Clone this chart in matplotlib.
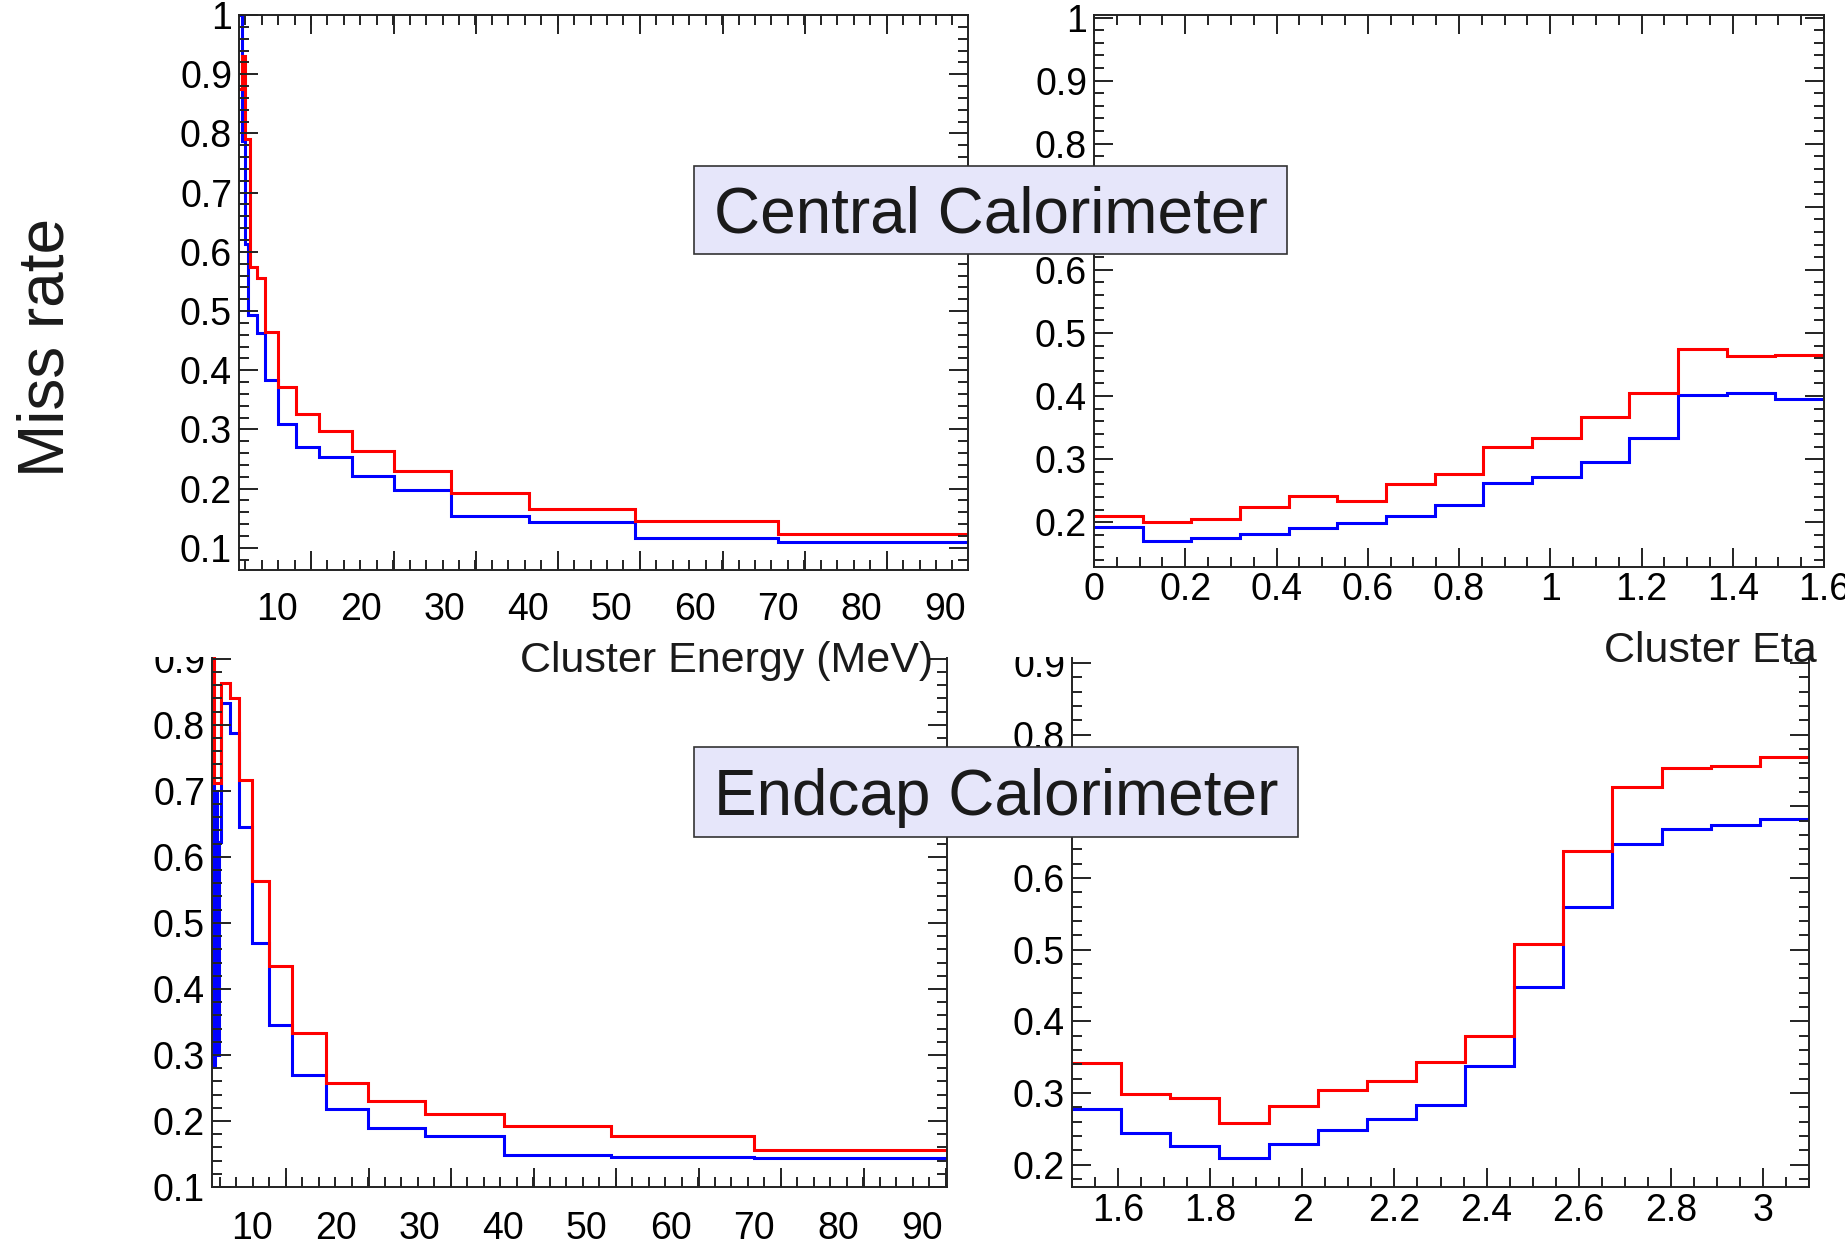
import numpy as np
import matplotlib
matplotlib.use('Agg')
import matplotlib.pyplot as plt
from matplotlib.patches import Rectangle
from matplotlib.ticker import FixedLocator, MultipleLocator, NullLocator

plt.rcParams['font.family'] = ['Liberation Sans', 'DejaVu Sans']

# ---- data ----
# central calorimeter, miss rate vs cluster energy (MeV)
central_e_edges = [5.42, 5.72, 6.12, 6.45, 6.73, 7.55, 8.55, 10.1, 12.3, 15.0,
                   18.95, 24.0, 30.8, 40.2, 52.9, 70.0, 92.75]
central_e_red = [0.875, 0.93, 0.79, 0.79, 0.575, 0.555, 0.465, 0.371, 0.326,
                 0.297, 0.264, 0.23, 0.193, 0.165, 0.145, 0.123]
central_e_blue = [1.0, 0.7875, 0.6125, 0.494, 0.494, 0.463, 0.383, 0.31, 0.271,
                  0.254, 0.221, 0.197, 0.153, 0.143, 0.116, 0.110]

# central calorimeter, miss rate vs cluster eta
central_eta_edges = [0, 0.107, 0.213, 0.32, 0.427, 0.533, 0.64, 0.747, 0.853,
                     0.96, 1.067, 1.173, 1.28, 1.387, 1.493, 1.6]
central_eta_red = [0.21, 0.20, 0.205, 0.2235, 0.2416, 0.234, 0.26, 0.2765,
                   0.319, 0.334, 0.366, 0.405, 0.475, 0.463, 0.465]
central_eta_blue = [0.193, 0.171, 0.175, 0.181, 0.191, 0.198, 0.21, 0.228,
                    0.262, 0.272, 0.295, 0.333, 0.402, 0.405, 0.396]

# endcap calorimeter, miss rate vs cluster energy (MeV)
endcap_e_edges = [5.24, 5.44, 5.65, 5.85, 6.05, 6.35, 7.42, 8.41, 10.0, 12.1,
                  14.85, 18.8, 23.9, 30.7, 40.1, 52.9, 70.0, 93.0]
endcap_e_red = [1.0, 0.712, 0.712, 0.712, 0.712, 0.863, 0.84, 0.717, 0.563,
                0.434, 0.333, 0.257, 0.23, 0.211, 0.192, 0.177, 0.1555]
endcap_e_blue = [0.712, 0.285, 0.70, 0.30, 0.623, 0.833, 0.787, 0.645, 0.47,
                 0.345, 0.27, 0.218, 0.189, 0.177, 0.148, 0.1456, 0.1433]

# endcap calorimeter, miss rate vs cluster eta
endcap_eta_edges = [1.5, 1.607, 1.713, 1.82, 1.927, 2.033, 2.14, 2.247, 2.353,
                    2.46, 2.567, 2.673, 2.78, 2.887, 2.993, 3.1]
endcap_eta_red = [0.342, 0.299, 0.2935, 0.2586, 0.2817, 0.3037, 0.317, 0.344,
                  0.379, 0.508, 0.638, 0.727, 0.754, 0.756, 0.769]
endcap_eta_blue = [0.278, 0.245, 0.226, 0.210, 0.2296, 0.249, 0.264, 0.283,
                   0.338, 0.448, 0.559, 0.648, 0.669, 0.6745, 0.682]

energy_labels = [10, 20, 30, 40, 50, 60, 70, 80, 90]
# tick marks on the energy axes sit off the labels in the original
energy_marks = [4.2, 14.1, 23.95, 33.8, 43.65, 53.5, 63.35, 73.2, 83.05, 92.9]

RED = '#ff0000'
BLUE = '#0000ff'
FRAME = '#222222'
W, H = 1845, 1244
TICKSIZE = 27


def place(x0, y0, x1, y1):
    # pixel box (top-left origin) -> figure fraction
    return [x0 / W, 1 - y1 / H, (x1 - x0) / W, (y1 - y0) / H]


def frame(ax, xlim, ylim, yticks):
    ax.set_xlim(*xlim)
    ax.set_ylim(*ylim)
    ax.set_yticks(yticks, ['%g' % v for v in yticks])
    ax.yaxis.set_minor_locator(MultipleLocator(0.02))
    ax.tick_params(axis='y', which='both', left=True, right=True, direction='in',
                   width=1.4, color=FRAME, labelsize=TICKSIZE, pad=5)
    ax.tick_params(axis='y', which='major', length=14)
    ax.tick_params(axis='y', which='minor', length=7)
    for s in ax.spines.values():
        s.set_linewidth(1.4)
        s.set_color(FRAME)


def energy_panel(ax, edges, red, blue, xlim, ylim, yticks, pad):
    ax.stairs(blue, edges, baseline=None, color=BLUE, lw=2.2)
    ax.stairs(red, edges, baseline=None, color=RED, lw=2.2)
    frame(ax, xlim, ylim, yticks)
    ax.set_xticks(energy_labels, [str(v) for v in energy_labels])
    ax.xaxis.set_minor_locator(NullLocator())
    ax.tick_params(axis='x', which='both', length=0, labelsize=TICKSIZE,
                   pad=pad, top=False)
    tw = ax.twiny()
    tw.set_zorder(ax.get_zorder())
    tw.set_xlim(*xlim)
    tw.xaxis.set_major_locator(FixedLocator(energy_marks))
    tw.xaxis.set_minor_locator(FixedLocator(np.arange(0.26, 95, 1.97)))
    tw.tick_params(axis='x', which='both', top=True, bottom=True, direction='in',
                   labeltop=False, labelbottom=False, width=1.4, color=FRAME)
    tw.tick_params(axis='x', which='major', length=14)
    tw.tick_params(axis='x', which='minor', length=7)
    for s in tw.spines.values():
        s.set_visible(False)


def eta_panel(ax, edges, red, blue, xlim, ylim, yticks, xticks, pad):
    ax.stairs(blue, edges, baseline=None, color=BLUE, lw=2.2)
    ax.stairs(red, edges, baseline=None, color=RED, lw=2.2)
    frame(ax, xlim, ylim, yticks)
    ax.set_xticks(xticks, ['%g' % v for v in xticks])
    ax.xaxis.set_minor_locator(MultipleLocator(0.05))
    ax.tick_params(axis='x', which='both', top=True, bottom=True, direction='in',
                   width=1.4, color=FRAME, labelsize=TICKSIZE, pad=pad)
    ax.tick_params(axis='x', which='major', length=14)
    ax.tick_params(axis='x', which='minor', length=7)


fig = plt.figure(figsize=(18.45, 12.44), dpi=100)

# bottom row (partly hidden behind the top row's white area)
ax_bl = fig.add_axes(place(212, 600, 947, 1187))
ax_bl.set_zorder(0)
energy_panel(ax_bl, endcap_e_edges, endcap_e_red, endcap_e_blue,
             (5.24, 93.0), (0.1, 0.989),
             [0.1, 0.2, 0.3, 0.4, 0.5, 0.6, 0.7, 0.8, 0.9], 17)

ax_br = fig.add_axes(place(1072, 600, 1809, 1187))
ax_br.set_zorder(0)
eta_panel(ax_br, endcap_eta_edges, endcap_eta_red, endcap_eta_blue,
          (1.5, 3.1), (0.169, 0.988),
          [0.2, 0.3, 0.4, 0.5, 0.6, 0.7, 0.8, 0.9],
          [1.6, 1.8, 2.0, 2.2, 2.4, 2.6, 2.8, 3.0], 4.3)

cover = Rectangle((0, 1 - 657 / H), 1, 657 / H, transform=fig.transFigure,
                  facecolor='white', edgecolor='none', zorder=1)
fig.add_artist(cover)

# top row
ax_tl = fig.add_axes(place(239, 15, 968, 570))
ax_tl.set_zorder(2)
energy_panel(ax_tl, central_e_edges, central_e_red, central_e_blue,
             (5.42, 92.75), (0.0626, 1.0),
             [0.1, 0.2, 0.3, 0.4, 0.5, 0.6, 0.7, 0.8, 0.9, 1.0], 15.8)

ax_tr = fig.add_axes(place(1094, 15, 1824, 567))
ax_tr.set_zorder(2)
eta_panel(ax_tr, central_eta_edges, central_eta_red, central_eta_blue,
          (0, 1.6), (0.129, 1.004),
          [0.2, 0.3, 0.4, 0.5, 0.6, 0.7, 0.8, 0.9, 1.0],
          [0, 0.2, 0.4, 0.6, 0.8, 1.0, 1.2, 1.4, 1.6], 3.6)

# labels and boxes
TXT = '#1a1a1a'
fig.text(64 / W, 1 - 347 / H, 'Miss rate', rotation=90, rotation_mode='anchor',
         ha='center', va='baseline', fontsize=46, color=TXT, zorder=5)
fig.text(933 / W, 1 - 672 / H, 'Cluster Energy (MeV)', ha='right',
         va='baseline', fontsize=31, color=TXT, zorder=5)
fig.text(1817 / W, 1 - 662 / H, 'Cluster Eta', ha='right', va='baseline',
         fontsize=31, color=TXT, zorder=5)

for (x0, y0, x1, y1), name in [((694, 166, 1287, 254), 'Central Calorimeter'),
                               ((694, 747, 1298, 837), 'Endcap Calorimeter')]:
    box = Rectangle((x0 / W, 1 - y1 / H), (x1 - x0) / W, (y1 - y0) / H,
                    transform=fig.transFigure, facecolor='#e6e6fa',
                    edgecolor='#333333', lw=1.2, zorder=4)
    fig.add_artist(box)
    fig.text((x0 + x1) / 2 / W, 1 - ((y0 + y1) / 2 + 22.8) / H, name,
             ha='center', va='baseline', fontsize=46, color=TXT, zorder=5)

fig.savefig('out.png', dpi=100)
